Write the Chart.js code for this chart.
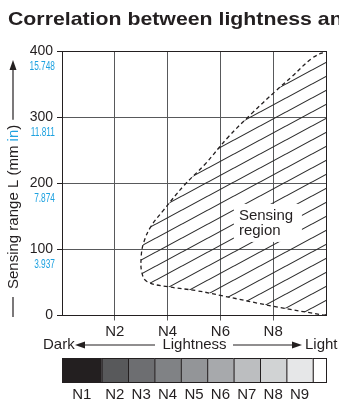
<!DOCTYPE html>
<html>
<head>
<meta charset="utf-8">
<script src="https://cdn.jsdelivr.net/npm/chart.js@4.4.0/dist/chart.umd.min.js"></script>
<style>
  html, body { margin: 0; padding: 0; background: #fff; }
</style>
</head>
<body>
<canvas id="chart" width="339" height="406"></canvas>
<script>
// boundary of the sensing region: lightness (N value) vs sensing range (mm)
const edgeLightness = [10, 8, 6.05, 5.1, 4.0, 3.23, 3.03, 3.0, 3.1, 3.36, 3.8, 4.63, 5.4, 6.3, 7.2, 8.08, 8.7, 9.47, 10];
const edgeRange = [0, 14, 30, 37.5, 43.6, 51, 64, 89, 111, 134, 157, 197, 228, 270, 306, 339, 361, 389, 400];

const yTicks = [0, 100, 200, 300, 400];
const inchLabels = ['', '3.937', '7.874', '11.811', '15.748'];
const xTicks = [2, 4, 6, 8];
const xTickLabels = ['N2', 'N4', 'N6', 'N8'];

// grey scale strip under the axis
const grayValues = [1, 2, 3, 4, 5, 6, 7, 8, 9];
const grayLabels = ['N1', 'N2', 'N3', 'N4', 'N5', 'N6', 'N7', 'N8', 'N9'];
const grayShades = ['#231f20', '#58595b', '#6d6e71', '#808285', '#939598', '#a7a9ac', '#bcbec0', '#d1d3d4', '#e6e7e8'];

const regionLabel = ['Sensing', 'region'];
const regionAt = { x: 7.8, y: 140 };

const titleText = 'Correlation between lightness and sensing range';

const FONT = "'Liberation Sans', Arial, sans-serif";
const INK = '#231f20';
const GRID = '#58595b';
const BLUE = '#1fa2e0';

// diagonal hatching
function makeHatch() {
    const w = 26, h = 14;
    const c = document.createElement('canvas');
    c.width = w; c.height = h;
    const g = c.getContext('2d');
    g.strokeStyle = '#2b2b2b';
    g.lineWidth = 1.1;
    g.beginPath();
    for (let k = -1; k <= 1; k++) {
        g.moveTo(0, h + k * h);
        g.lineTo(w, k * h);
    }
    g.stroke();
    return g.createPattern(c, 'repeat');
}

function arrowHead(ctx, x, y, dir) {
    ctx.beginPath();
    ctx.moveTo(x, y);
    ctx.lineTo(x - dir * 10, y - 3.5);
    ctx.lineTo(x - dir * 10, y + 3.5);
    ctx.closePath();
    ctx.fill();
}

const decor = {
    id: 'decor',
    afterDatasetsDraw(chart) {
        const { ctx, scales: { x, y } } = chart;
        const cx = x.getPixelForValue(regionAt.x);
        const cy = y.getPixelForValue(regionAt.y);
        ctx.save();
        ctx.fillStyle = '#fff';
        ctx.fillRect(cx - 34, cy - 19, 68, 38);
        ctx.fillStyle = INK;
        ctx.font = '15px ' + FONT;
        ctx.textAlign = 'left';
        ctx.textBaseline = 'middle';
        ctx.fillText(regionLabel[0], cx - 29, cy - 7);
        ctx.fillText(regionLabel[1], cx - 29, cy + 8);
        ctx.restore();
    },
    afterDraw(chart) {
        const { ctx, scales: { x, y } } = chart;
        ctx.save();

        // title (runs off the right edge like the original)
        ctx.save();
        ctx.fillStyle = INK;
        ctx.font = 'bold 19px ' + FONT;
        ctx.textAlign = 'left';
        ctx.textBaseline = 'alphabetic';
        ctx.translate(8, 25);
        ctx.scale(1.12, 1);
        ctx.fillText(titleText, 0, 0);
        ctx.restore();

        // inch values under the mm ticks
        ctx.fillStyle = BLUE;
        ctx.font = '13px ' + FONT;
        ctx.textAlign = 'right';
        ctx.textBaseline = 'middle';
        yTicks.forEach((v, i) => {
            if (!inchLabels[i]) return;
            ctx.save();
            ctx.translate(55, y.getPixelForValue(v) + 15);
            ctx.scale(0.64, 1);
            ctx.fillText(inchLabels[i], 0, 0);
            ctx.restore();
        });

        // y axis title, rotated
        ctx.save();
        ctx.translate(13, 317);
        ctx.rotate(-Math.PI / 2);
        ctx.strokeStyle = INK;
        ctx.fillStyle = INK;
        ctx.lineWidth = 1.2;
        ctx.beginPath();
        ctx.moveTo(0, 0); ctx.lineTo(20, 0);
        ctx.stroke();
        ctx.font = '15px ' + FONT;
        ctx.textAlign = 'left';
        ctx.textBaseline = 'middle';
        let tx = 28;
        [['Sensing range L (mm ', INK], ['in', BLUE], [')', INK]].forEach(([s, col]) => {
            ctx.fillStyle = col;
            ctx.fillText(s, tx, 1);
            tx += ctx.measureText(s).width;
        });
        ctx.fillStyle = INK;
        ctx.beginPath();
        ctx.moveTo(tx + 5, 0); ctx.lineTo(250, 0);
        ctx.stroke();
        arrowHead(ctx, 257, 0, 1);
        ctx.restore();

        // Dark <- Lightness -> Light
        const ry = 345;
        ctx.fillStyle = INK;
        ctx.strokeStyle = INK;
        ctx.lineWidth = 1.2;
        ctx.font = '15px ' + FONT;
        ctx.textBaseline = 'middle';
        ctx.textAlign = 'left';
        ctx.fillText('Dark', 43, ry);
        ctx.fillText('Light', 305, ry);
        ctx.textAlign = 'center';
        ctx.fillText('Lightness', 194.5, ry);
        ctx.beginPath();
        ctx.moveTo(84, ry); ctx.lineTo(155, ry);
        ctx.moveTo(233, ry); ctx.lineTo(294, ry);
        ctx.stroke();
        arrowHead(ctx, 75, ry, -1);
        arrowHead(ctx, 302, ry, 1);

        // grey scale strip
        const top = 358, h = 24;
        const cells = grayValues.map((v, i) => ({
            from: i === 0 ? 0 : v - 0.5, to: v + 0.5, color: grayShades[i], label: grayLabels[i]
        }));
        cells.push({ from: 9.5, to: 10, color: '#fff', label: '' });
        ctx.lineWidth = 1;
        cells.forEach(c => {
            const l = x.getPixelForValue(c.from), r = x.getPixelForValue(c.to);
            ctx.fillStyle = c.color;
            ctx.fillRect(l, top, r - l, h);
            ctx.strokeRect(l + 0.5, top + 0.5, r - l, h);
            if (c.label) {
                ctx.fillStyle = INK;
                ctx.textAlign = 'center';
                ctx.fillText(c.label, (l + r) / 2, 395);
            }
        });
        ctx.restore();
    }
};

const ctx = document.getElementById('chart').getContext('2d');
new Chart(ctx, {
    type: 'scatter',
    data: {
        datasets: [{
            data: edgeLightness.map((v, i) => ({ x: v, y: edgeRange[i] })),
            showLine: true,
            fill: 'shape',
            backgroundColor: makeHatch(),
            borderColor: INK,
            borderWidth: 1.3,
            borderDash: [4, 3],
            pointRadius: 0,
            tension: 0.4
        }]
    },
    options: {
        responsive: false,
        animation: false,
        layout: { padding: { left: 8, right: 13, top: 51, bottom: 0 } },
        plugins: {
            legend: { display: false },
            tooltip: { enabled: false },
            title: { display: false }
        },
        scales: {
            x: {
                type: 'linear',
                min: 0,
                max: 10,
                afterBuildTicks: s => { s.ticks = [0, ...xTicks, 10].map(v => ({ value: v })); },
                afterFit: s => { s.height = 90.5; },
                ticks: {
                    autoSkip: false,
                    maxRotation: 0,
                    padding: 2,
                    color: INK,
                    font: { family: FONT, size: 15 },
                    callback: v => { const i = xTicks.indexOf(v); return i < 0 ? '' : xTickLabels[i]; }
                },
                grid: {
                    color: c => (c.tick && c.tick.value === 10) ? INK : GRID,
                    tickColor: c => (c.tick && (c.tick.value === 0 || c.tick.value === 10)) ? 'rgba(0,0,0,0)' : GRID,
                    tickLength: 5,
                    lineWidth: 1
                },
                border: { color: INK, width: 1 }
            },
            y: {
                min: 0,
                max: 400,
                afterBuildTicks: s => { s.ticks = yTicks.map(v => ({ value: v })); },
                afterFit: s => { s.width = 54; },
                ticks: {
                    padding: 4,
                    color: INK,
                    font: { family: FONT, size: 14 }
                },
                grid: {
                    color: c => (c.tick && c.tick.value === 400) ? INK : GRID,
                    tickColor: INK,
                    tickLength: 5,
                    lineWidth: 1
                },
                border: { color: INK, width: 1 }
            }
        }
    },
    plugins: [decor]
});
</script>
</body>
</html>
